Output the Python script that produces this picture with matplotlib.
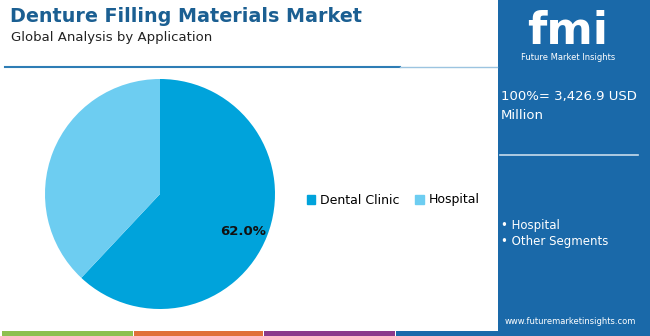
import matplotlib.pyplot as plt
import matplotlib.patches as mpatches

labels = ['Dental Clinic', 'Hospital']
shares = [62.0, 38.0]
colors = ['#00A3DB', '#6DCDF1']

title = 'Denture Filling Materials Market'
subtitle = 'Global Analysis by Application'
total_text = '100%= 3,426.9 USD\nMillion'
side_items = ['Hospital', 'Other Segments']

W, H = 650, 336
fig = plt.figure(figsize=(W / 100, H / 100), dpi=100)
bg = fig.add_axes([0, 0, 1, 1])
bg.set_xlim(0, W)
bg.set_ylim(H, 0)
bg.axis('off')

# header
bg.text(10, 17, title, fontsize=13.8, fontweight='bold', color='#1B5F92', va='center')
bg.text(11, 38, subtitle, fontsize=9.5, color='#222222', va='center')
bg.plot([5, 400], [67, 67], color='#2E7DB5', lw=1.5)
bg.plot([400, 497], [67, 67], color='#9CC4E0', lw=1)

# bottom strips
strip_cols = ['#8DC04F', '#E0703A', '#8B3A8B', '#1A6AAA']
strip_x = [2, 134, 264, 396, 650]
for i, c in enumerate(strip_cols):
    bg.add_patch(mpatches.Rectangle((strip_x[i], 331), strip_x[i + 1] - strip_x[i] - 1, 5,
                                    color=c, lw=0))

# right panel
bg.add_patch(mpatches.Rectangle((498, 0), 152, 336, color='#1A69A9', lw=0))
bg.text(568, 32, 'fmi', fontsize=32, fontweight='bold', color='white',
        ha='center', va='center')
bg.text(568, 58, 'Future Market Insights', fontsize=6, color='white',
        ha='center', va='center')
bg.text(501, 106, total_text, fontsize=9.5, color='white', va='center',
        linespacing=1.6)
bg.plot([500, 638], [155, 155], color='#C8DCEC', lw=1.2)
for j, item in enumerate(side_items):
    bg.text(501, 226 + j * 16, '\u2022 ' + item, fontsize=8.5, color='white', va='center')
bg.text(570, 321, 'www.futuremarketinsights.com', fontsize=6, color='white',
        ha='center', va='center')

# pie
ax = fig.add_axes([45 / W, 1 - 309 / H, 230 / W, 230 / H])
ax.pie(shares, colors=colors, startangle=90, counterclock=False,
       wedgeprops={'linewidth': 0})
ax.set_xlim(-1, 1)
ax.set_ylim(-1, 1)
ax.set_aspect('equal')
ax.text(0.72, -0.33, f'{shares[0]:.1f}%', fontsize=9.5, fontweight='bold',
        ha='center', va='center', color='#111111')

# legend
handles = [mpatches.Patch(color=c, label=l) for c, l in zip(colors, labels)]
fig.legend(handles=handles, loc='center', bbox_to_anchor=(393 / W, 1 - 200 / H),
           ncol=2, frameon=False, fontsize=9, handlelength=0.7, handleheight=0.7,
           handletextpad=0.4, columnspacing=1.2)

fig.savefig('out.png', dpi=100)
